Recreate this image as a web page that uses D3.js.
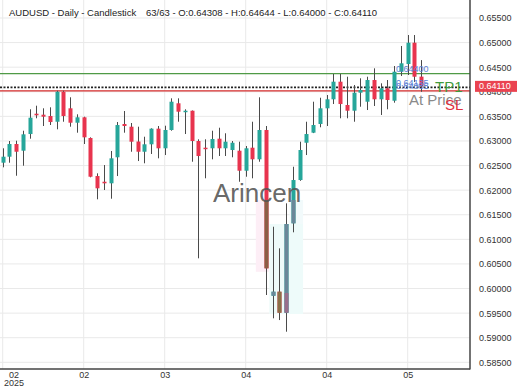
<!DOCTYPE html>
<html>
<head>
<meta charset="utf-8">
<script src="https://cdn.jsdelivr.net/npm/d3@7"></script>
<style>
  body { margin: 0; background: #fff; }
  svg { display: block; font-family: "Liberation Sans", Arial, sans-serif; }
</style>
</head>
<body>
<svg width="520" height="390"></svg>
<script>
// OHLC, 63 daily candles
var opens  = [0.62558,0.62680,0.62938,0.62802,0.63141,0.63554,0.63534,0.63507,0.63391,0.64001,
              0.63664,0.63371,0.63481,0.63060,0.62287,0.62171,0.62139,0.62668,0.63345,0.63290,
              0.62989,0.62781,0.62932,0.63250,0.62851,0.63223,0.63766,0.63589,0.63615,0.62999,
              0.62863,0.62851,0.63046,0.62851,0.62816,0.62802,0.62395,0.62863,0.62627,0.63223,
              0.59853,0.59935,0.59508,0.61326,0.62206,0.62964,0.63168,0.63345,0.63664,0.63847,
              0.64205,0.63731,0.63615,0.63981,0.63798,0.64239,0.63847,0.64071,0.63818,0.64408,
              0.64565,0.64998,0.64308];
var highs  = [0.62851,0.62999,0.63005,0.63208,0.63644,0.63717,0.63664,0.63684,0.64022,0.64022,
              0.63888,0.63542,0.63493,0.63074,0.62342,0.62511,0.62796,0.63385,0.63609,0.63365,
              0.63290,0.63086,0.63257,0.63304,0.63310,0.63867,0.63867,0.63644,0.63620,0.63034,
              0.63034,0.63208,0.63269,0.63156,0.62999,0.62985,0.62897,0.63391,0.63888,0.63304,
              0.61256,0.60817,0.61732,0.62476,0.62985,0.63391,0.63798,0.63879,0.63934,0.64361,
              0.64361,0.64306,0.64138,0.64274,0.64306,0.64477,0.64172,0.64239,0.64524,0.64931,
              0.65154,0.65154,0.64644];
var lows   = [0.62464,0.62558,0.62293,0.62497,0.63046,0.63461,0.63304,0.63324,0.63237,0.63391,
              0.63290,0.63168,0.62938,0.62261,0.61814,0.62003,0.61826,0.62287,0.63168,0.62781,
              0.62592,0.62546,0.62735,0.62647,0.62714,0.63208,0.63391,0.63141,0.62578,0.60614,
              0.62241,0.62627,0.62694,0.62694,0.62668,0.62171,0.62273,0.62241,0.62578,0.59868,
              0.59394,0.59359,0.59122,0.61143,0.62190,0.62714,0.63160,0.63278,0.63304,0.63751,
              0.63461,0.63461,0.63391,0.63696,0.63629,0.63711,0.63528,0.63644,0.63778,0.64321,
              0.64341,0.64199,0.64000];
var closes = [0.62680,0.62938,0.62781,0.63135,0.63473,0.63522,0.63493,0.63385,0.64001,0.63507,
              0.63371,0.63481,0.63074,0.62273,0.62037,0.62139,0.62647,0.63324,0.63304,0.62985,
              0.62781,0.62932,0.63250,0.62851,0.63223,0.63798,0.63595,0.63615,0.62999,0.62694,
              0.62842,0.63040,0.62851,0.62985,0.62964,0.62395,0.62851,0.62627,0.63223,0.60411,
              0.59935,0.59508,0.61311,0.62206,0.62816,0.63141,0.63324,0.63664,0.63847,0.64205,
              0.63751,0.63615,0.63981,0.64036,0.64239,0.63847,0.64071,0.63833,0.64408,0.64579,
              0.64998,0.64306,0.64110];

var tickIdx    = [0, 12, 24, 36, 48, 60];
var tickLabels = ["02", "02", "03", "04", "04", "05"];
var yTicks = [0.585,0.590,0.595,0.600,0.605,0.610,0.615,0.620,0.625,0.630,0.635,0.640,0.645,0.650,0.655,0.660];

// trade levels
var tpPrice = 0.6437, atPrice = 0.6409, slPrice = 0.6402, lastPrice = 0.64110;
var levelLabels = [
  {text: "0.64400", price: 0.64460},
  {text: "0.64135", price: 0.64185},
  {text: "0.64085", price: 0.64115}
];

// shaded pattern zones (candle index range, price range)
var zones = [
  {i0: 37.5, i1: 39.5, hi: 0.61799, lo: 0.60340, bg: "#fdeef6", up: "#9b6f92", down: "#8b5e45"},
  {i0: 39.5, i1: 44.5, hi: 0.61311, lo: 0.59481, bg: "#eefbfa", up: "#6a8799", down: "#8a7048"},
  {i0: 42.5, i1: 44.5, hi: 0.61799, lo: 0.61311, bg: "#f2fafb", up: "#6a8799", down: "#8a7048"},
  {i0: 41.5, i1: 42.5, hi: 0.59908, lo: 0.59481, bg: "none",    up: "#9a6f8c", down: "#8a7048"}
];

var upColor = "#26a69a", downColor = "#e8344e", wickColor = "#4a4a4a";

var W = 470, H = 369;
var svg = d3.select("svg");

var x = d3.scaleLinear().domain([-0.4, 69.23]).range([0, W]);
var y = d3.scaleLinear().domain([0.585, 0.655]).range([362.3, 18]);

var candles = d3.range(opens.length).map(function(i) {
  return {i: i, o: opens[i], h: highs[i], l: lows[i], c: closes[i]};
});

svg.append("rect").attr("width", 520).attr("height", 390).attr("fill", "#fff");

// grid
svg.append("g").selectAll("line").data(yTicks).enter().append("line")
    .attr("x1", 0).attr("x2", W)
    .attr("y1", function(d) { return y(d); }).attr("y2", function(d) { return y(d); })
    .attr("stroke", "#e9e9e9").attr("stroke-width", 1);
svg.append("g").selectAll("line").data(tickIdx).enter().append("line")
    .attr("x1", function(d) { return x(d); }).attr("x2", function(d) { return x(d); })
    .attr("y1", 0).attr("y2", H)
    .attr("stroke", "#e9e9e9").attr("stroke-width", 1);

// zone backgrounds
svg.append("g").selectAll("rect").data(zones.filter(function(z) { return z.bg != "none"; }))
  .enter().append("rect")
    .attr("x", function(z) { return x(z.i0); })
    .attr("width", function(z) { return x(z.i1) - x(z.i0); })
    .attr("y", function(z) { return y(z.hi); })
    .attr("height", function(z) { return y(z.lo) - y(z.hi); })
    .attr("fill", function(z) { return z.bg; });

// level lines
svg.append("line").attr("x1", 0).attr("x2", W).attr("y1", y(tpPrice)).attr("y2", y(tpPrice))
    .attr("stroke", "#4f9a46").attr("stroke-width", 1.3);
svg.append("line").attr("x1", 0).attr("x2", W).attr("y1", y(slPrice)).attr("y2", y(slPrice))
    .attr("stroke", "#d42b2b").attr("stroke-width", 1.3);
svg.append("line").attr("x1", 0).attr("x2", W).attr("y1", y(atPrice)).attr("y2", y(atPrice))
    .attr("stroke", "#222").attr("stroke-width", 1.6).attr("stroke-dasharray", "2,1.5");

var bw = 4;

function drawCandles(g, up, down) {
  g.selectAll("line.wick").data(candles).enter().append("line")
      .attr("class", "wick")
      .attr("x1", function(d) { return Math.round(x(d.i)) + 0.5; })
      .attr("x2", function(d) { return Math.round(x(d.i)) + 0.5; })
      .attr("y1", function(d) { return y(d.h); })
      .attr("y2", function(d) { return y(d.l); })
      .attr("stroke", wickColor).attr("stroke-width", 1);
  g.selectAll("rect.body").data(candles).enter().append("rect")
      .attr("class", "body")
      .attr("x", function(d) { return Math.round(x(d.i)) + 0.5 - bw / 2; })
      .attr("width", bw)
      .attr("y", function(d) { return y(Math.max(d.o, d.c)); })
      .attr("height", function(d) { return Math.max(1.5, Math.abs(y(d.o) - y(d.c))); })
      .attr("fill", function(d) { return d.c >= d.o ? up : down; });
}

drawCandles(svg.append("g"), upColor, downColor);

// recoloured candle bodies inside the shaded zones
zones.forEach(function(z, k) {
  svg.append("clipPath").attr("id", "zone" + k).append("rect")
      .attr("x", x(z.i0)).attr("width", x(z.i1) - x(z.i0))
      .attr("y", y(z.hi)).attr("height", y(z.lo) - y(z.hi));
  var g = svg.append("g").attr("clip-path", "url(#zone" + k + ")");
  g.selectAll("rect").data(candles).enter().append("rect")
      .attr("x", function(d) { return Math.round(x(d.i)) + 0.5 - bw / 2; })
      .attr("width", bw)
      .attr("y", function(d) { return y(Math.max(d.o, d.c)); })
      .attr("height", function(d) { return Math.max(1.5, Math.abs(y(d.o) - y(d.c))); })
      .attr("fill", function(d) { return d.c >= d.o ? z.up : z.down; });
});

// watermark
svg.append("text").attr("x", 213).attr("y", 202)
    .attr("font-size", 26).attr("fill", "#555").attr("fill-opacity", 0.9)
    .text("Arincen");

// level texts
svg.append("g").selectAll("text").data(levelLabels).enter().append("text")
    .attr("x", 396).attr("y", function(d) { return y(d.price); })
    .attr("dominant-baseline", "central")
    .attr("font-size", 9).attr("fill", "#5b7fd4")
    .text(function(d) { return d.text; });
svg.append("text").attr("x", 435).attr("y", 91.5).attr("font-size", 15).attr("fill", "#3f9a3c").text("TP1");
svg.append("text").attr("x", 409).attr("y", 104.5).attr("font-size", 15).attr("fill", "#8a8a8a").text("At Price");
svg.append("text").attr("x", 445).attr("y", 110).attr("font-size", 15).attr("fill", "#e0303e").text("SL");

// axes
var yAxis = d3.axisRight(y).tickValues(yTicks).tickSize(0).tickPadding(9)
    .tickFormat(d3.format(".5f"));
var gy = svg.append("g").attr("transform", "translate(" + W + ",0)").call(yAxis);
gy.select(".domain").remove();
gy.selectAll("text").attr("font-size", 9).attr("fill", "#333")
    .attr("font-family", "Liberation Sans, Arial, sans-serif");

var xAxis = d3.axisBottom(x).tickValues(tickIdx).tickSize(0).tickPadding(3)
    .tickFormat(function(d, i) { return tickLabels[i]; });
var gx = svg.append("g").attr("transform", "translate(0," + H + ")").call(xAxis);
gx.select(".domain").remove();
gx.selectAll("text").attr("font-size", 9).attr("fill", "#333")
    .attr("font-family", "Liberation Sans, Arial, sans-serif");
// first label shifted inside, with the year underneath
gx.selectAll(".tick").filter(function(d, i) { return i == 0; })
    .attr("transform", "translate(14,0)")
    .append("text").attr("y", 11).attr("dy", "0.71em").attr("text-anchor", "middle")
    .attr("font-size", 9).attr("fill", "#333").text("2025");

svg.append("line").attr("x1", W).attr("x2", W).attr("y1", 0).attr("y2", H + 0.5)
    .attr("stroke", "#444").attr("stroke-width", 1.5);
svg.append("line").attr("x1", 0).attr("x2", W).attr("y1", H).attr("y2", H)
    .attr("stroke", "#444").attr("stroke-width", 1.5);

// last price tag
svg.append("rect").attr("x", 475).attr("y", y(lastPrice) - 5.5).attr("width", 42).attr("height", 11)
    .attr("fill", "#ea4350");
svg.append("text").attr("x", 479).attr("y", y(lastPrice)).attr("dominant-baseline", "central")
    .attr("font-size", 9).attr("fill", "#fff").text(d3.format(".5f")(lastPrice));

// title
var title = svg.append("text").attr("x", 9).attr("y", 16).attr("font-size", 9.5).attr("fill", "#222");
title.append("tspan").text("AUDUSD - Daily - Candlestick");
title.append("tspan").attr("x", 146).text("63/63 - O:" + d3.format(".5f")(opens[62]) +
    " - H:" + d3.format(".5f")(highs[62]) + " - L:" + d3.format(".5f")(lows[62]) +
    " - C:" + d3.format(".5f")(closes[62]));
</script>
</body>
</html>
